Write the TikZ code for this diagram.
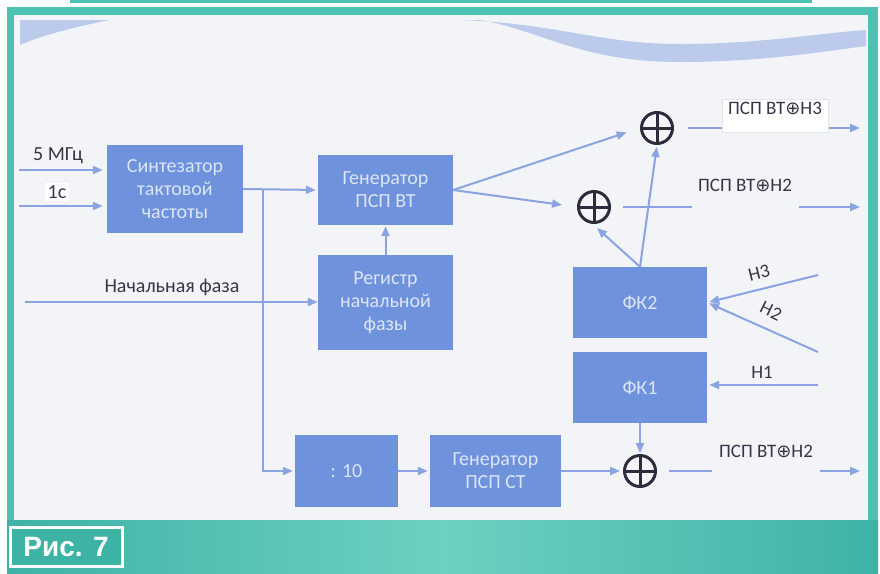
\documentclass[tikz,border=0pt]{standalone}
\usepackage{fontspec}
\setmainfont{Carlito}
\newfontfamily\dvsym{DejaVu Sans}
\newfontfamily\arialfont{Liberation Sans}
\usetikzlibrary{arrows.meta,calc}
\definecolor{tealA}{HTML}{4DC2B2}
\definecolor{tealB}{HTML}{3DB3A6}
\definecolor{tealC}{HTML}{6ED0C1}
\definecolor{panel}{HTML}{F3F4F8}
\definecolor{blk}{HTML}{6E92DC}
\definecolor{blktxt}{HTML}{DCE5F6}
\definecolor{lnc}{HTML}{8AA4E2}
\definecolor{wavec}{HTML}{BCCAEC}
\definecolor{txtc}{HTML}{363646}
\definecolor{xorc}{HTML}{2C2C3C}
\newcommand{\xsym}{{\dvsym\fontsize{18}{18}\selectfont ⊕}}
\tikzset{
  blockbox/.style={draw=none, fill=blk, text=blktxt, align=center, inner sep=0pt,
    font=\fontsize{20}{23}\selectfont},
  lnk/.style={draw=lnc, line width=2pt},
  arr/.style={lnk, -{Triangle[length=10pt,width=8pt]}},
  lbl/.style={text=txtc, inner sep=1pt, font=\fontsize{20}{22}\selectfont},
  olbl/.style={text=txtc, inner xsep=4pt, inner ysep=3pt, text height=12pt,
    font=\fontsize{19}{20}\selectfont, anchor=base},
  hlbl/.style={text=txtc, inner sep=0pt, font=\fontsize{19}{20}\selectfont},
  xorbox/.style={circle, draw=xorc, line width=3pt, minimum size=31pt, inner sep=0pt,
    path picture={\draw[xorc, line width=3pt]
      (path picture bounding box.north) -- (path picture bounding box.south)
      (path picture bounding box.west) -- (path picture bounding box.east);}}
}
\begin{document}
\begin{tikzpicture}[x=1pt,y=-1pt]
\useasboundingbox (0,0) rectangle (880,573);
% frame
\fill[white] (0,0) rectangle (880,573);
\fill[tealA] (70,0) rectangle (812,2.5);
\fill[tealA] (7,7) rectangle (878,573);
\shade[left color=tealB, right color=tealB, middle color=tealC] (7,520) rectangle (878,573);
\fill[panel] (14,15) rectangle (868,520);
% waves
\fill[wavec] (20,20) -- (110,20) .. controls (70,28) and (40,36) .. (20,45) -- cycle;
\fill[wavec] (462,20) .. controls (560,24) and (600,44) .. (680,44)
  .. controls (760,44) and (820,33) .. (866,30) -- (866,46)
  .. controls (820,52) and (760,62) .. (680,62)
  .. controls (580,62) and (540,30) .. (480,20) -- cycle;
% caption
\node[draw=white, line width=3pt, fill=tealB, text=white, minimum width=112pt, minimum height=39pt,
  inner sep=0pt, font=\arialfont\bfseries\fontsize{28}{30}\selectfont] (cap) at (66,547) {Рис. 7};

% blocks
\node[blockbox, minimum width=136pt, minimum height=88pt] (synth) at (175,189) {Синтезатор\\тактовой\\частоты};
\node[blockbox, minimum width=135pt, minimum height=70pt] (genvt) at (385.5,190) {Генератор\\ПСП ВТ};
\node[blockbox, minimum width=135pt, minimum height=95pt] (reg) at (385.5,302.5) {Регистр\\начальной\\фазы};
\node[blockbox, minimum width=134pt, minimum height=71pt] (fk2) at (640,302.5) {ФК2};
\node[blockbox, minimum width=134pt, minimum height=71pt] (fk1) at (640,387.5) {ФК1};
\node[blockbox, minimum width=103pt, minimum height=72pt] (div) at (346.5,471) {: 10};
\node[blockbox, minimum width=131pt, minimum height=72pt] (genct) at (495.5,471) {Генератор\\ПСП СТ};

% xor circles
\node[xorbox] (xt) at (657,128) {};
\node[xorbox] (xm) at (594,207) {};
\node[xorbox] (xb) at (640,471) {};

% inputs
\coordinate (in5) at (19,170);
\coordinate (in1) at (19,206);
\coordinate (inf) at (25,302);
\draw[arr, shorten >=4pt] (in5) -- (in5 -| synth.west);
\draw[arr, shorten >=4pt] (in1) -- (in1 -| synth.west);
\node[lbl] (l5) at (58,156) {5 МГц};
\node[lbl, fill=white, inner xsep=3pt, inner ysep=2pt] (l1) at (57,192) {1с};
\draw[arr] (inf) -- (inf -| reg.west);
\node[lbl] (lnf) at (172,287) {Начальная фаза};

% main links
\draw[arr, shorten >=2pt] (synth.east) -- (genvt.west);
\coordinate (j) at (263,189);
\draw[arr, shorten >=2pt] (j) |- (div.west);
\draw[arr, shorten >=1pt] (reg.north) -- (genvt.south);
\draw[arr, shorten >=14pt] (genvt.east) -- (xt.west);
\draw[arr, shorten >=15pt] (genvt.east) -- (xm.west);
\draw[arr, shorten >=2pt] (fk2.north) -- (xt.south);
\draw[arr] (fk2.north) -- ($(xm.south)+(3,4)$);
\draw[arr, shorten >=2pt] (div.east) -- (genct.west);
\draw[arr, shorten >=3pt] (genct.east) -- (xb.west);
\draw[arr, shorten >=1pt] (fk1.south) -- (xb.north);

% H inputs
\coordinate (h3) at (818,275);
\coordinate (h2) at (818,352);
\coordinate (h1) at (818,385);
\draw[arr, shorten >=2pt] (h3) -- (fk2.east);
\draw[arr, shorten >=2pt] (h2) -- (fk2.east);
\draw[arr, shorten >=2pt] (h1) -- (h1 -| fk1.east);
\node[hlbl, rotate=14] (lh3) at (759,273) {Н3};
\node[hlbl, rotate=-26] (lh2) at (771,311) {Н2};
\node[hlbl] (lh1) at (762,372) {Н1};

% outputs
\coordinate (o3) at (860,128);
\coordinate (o2) at (860,207);
\coordinate (o1) at (860,471);
\draw[arr] ($(xt.east)+(14,0)$) -- (o3);
\draw[arr] ($(xm.east)+(12,0)$) -- (o2);
\draw[arr] ($(xb.east)+(12,0)$) -- (o1);
\node[olbl, fill=white, draw=black!10, text depth=15pt, minimum width=106pt] (lo3) at (775,114) {ПСП ВТ\xsym Н3};
\node[olbl, fill=panel, text depth=18pt, minimum width=107pt] (lo2) at (745,191) {ПСП ВТ\xsym Н2};
\node[olbl, fill=panel, text depth=18pt, minimum width=108pt] (lo1) at (766,457) {ПСП ВТ\xsym Н2};
\end{tikzpicture}
\end{document}
